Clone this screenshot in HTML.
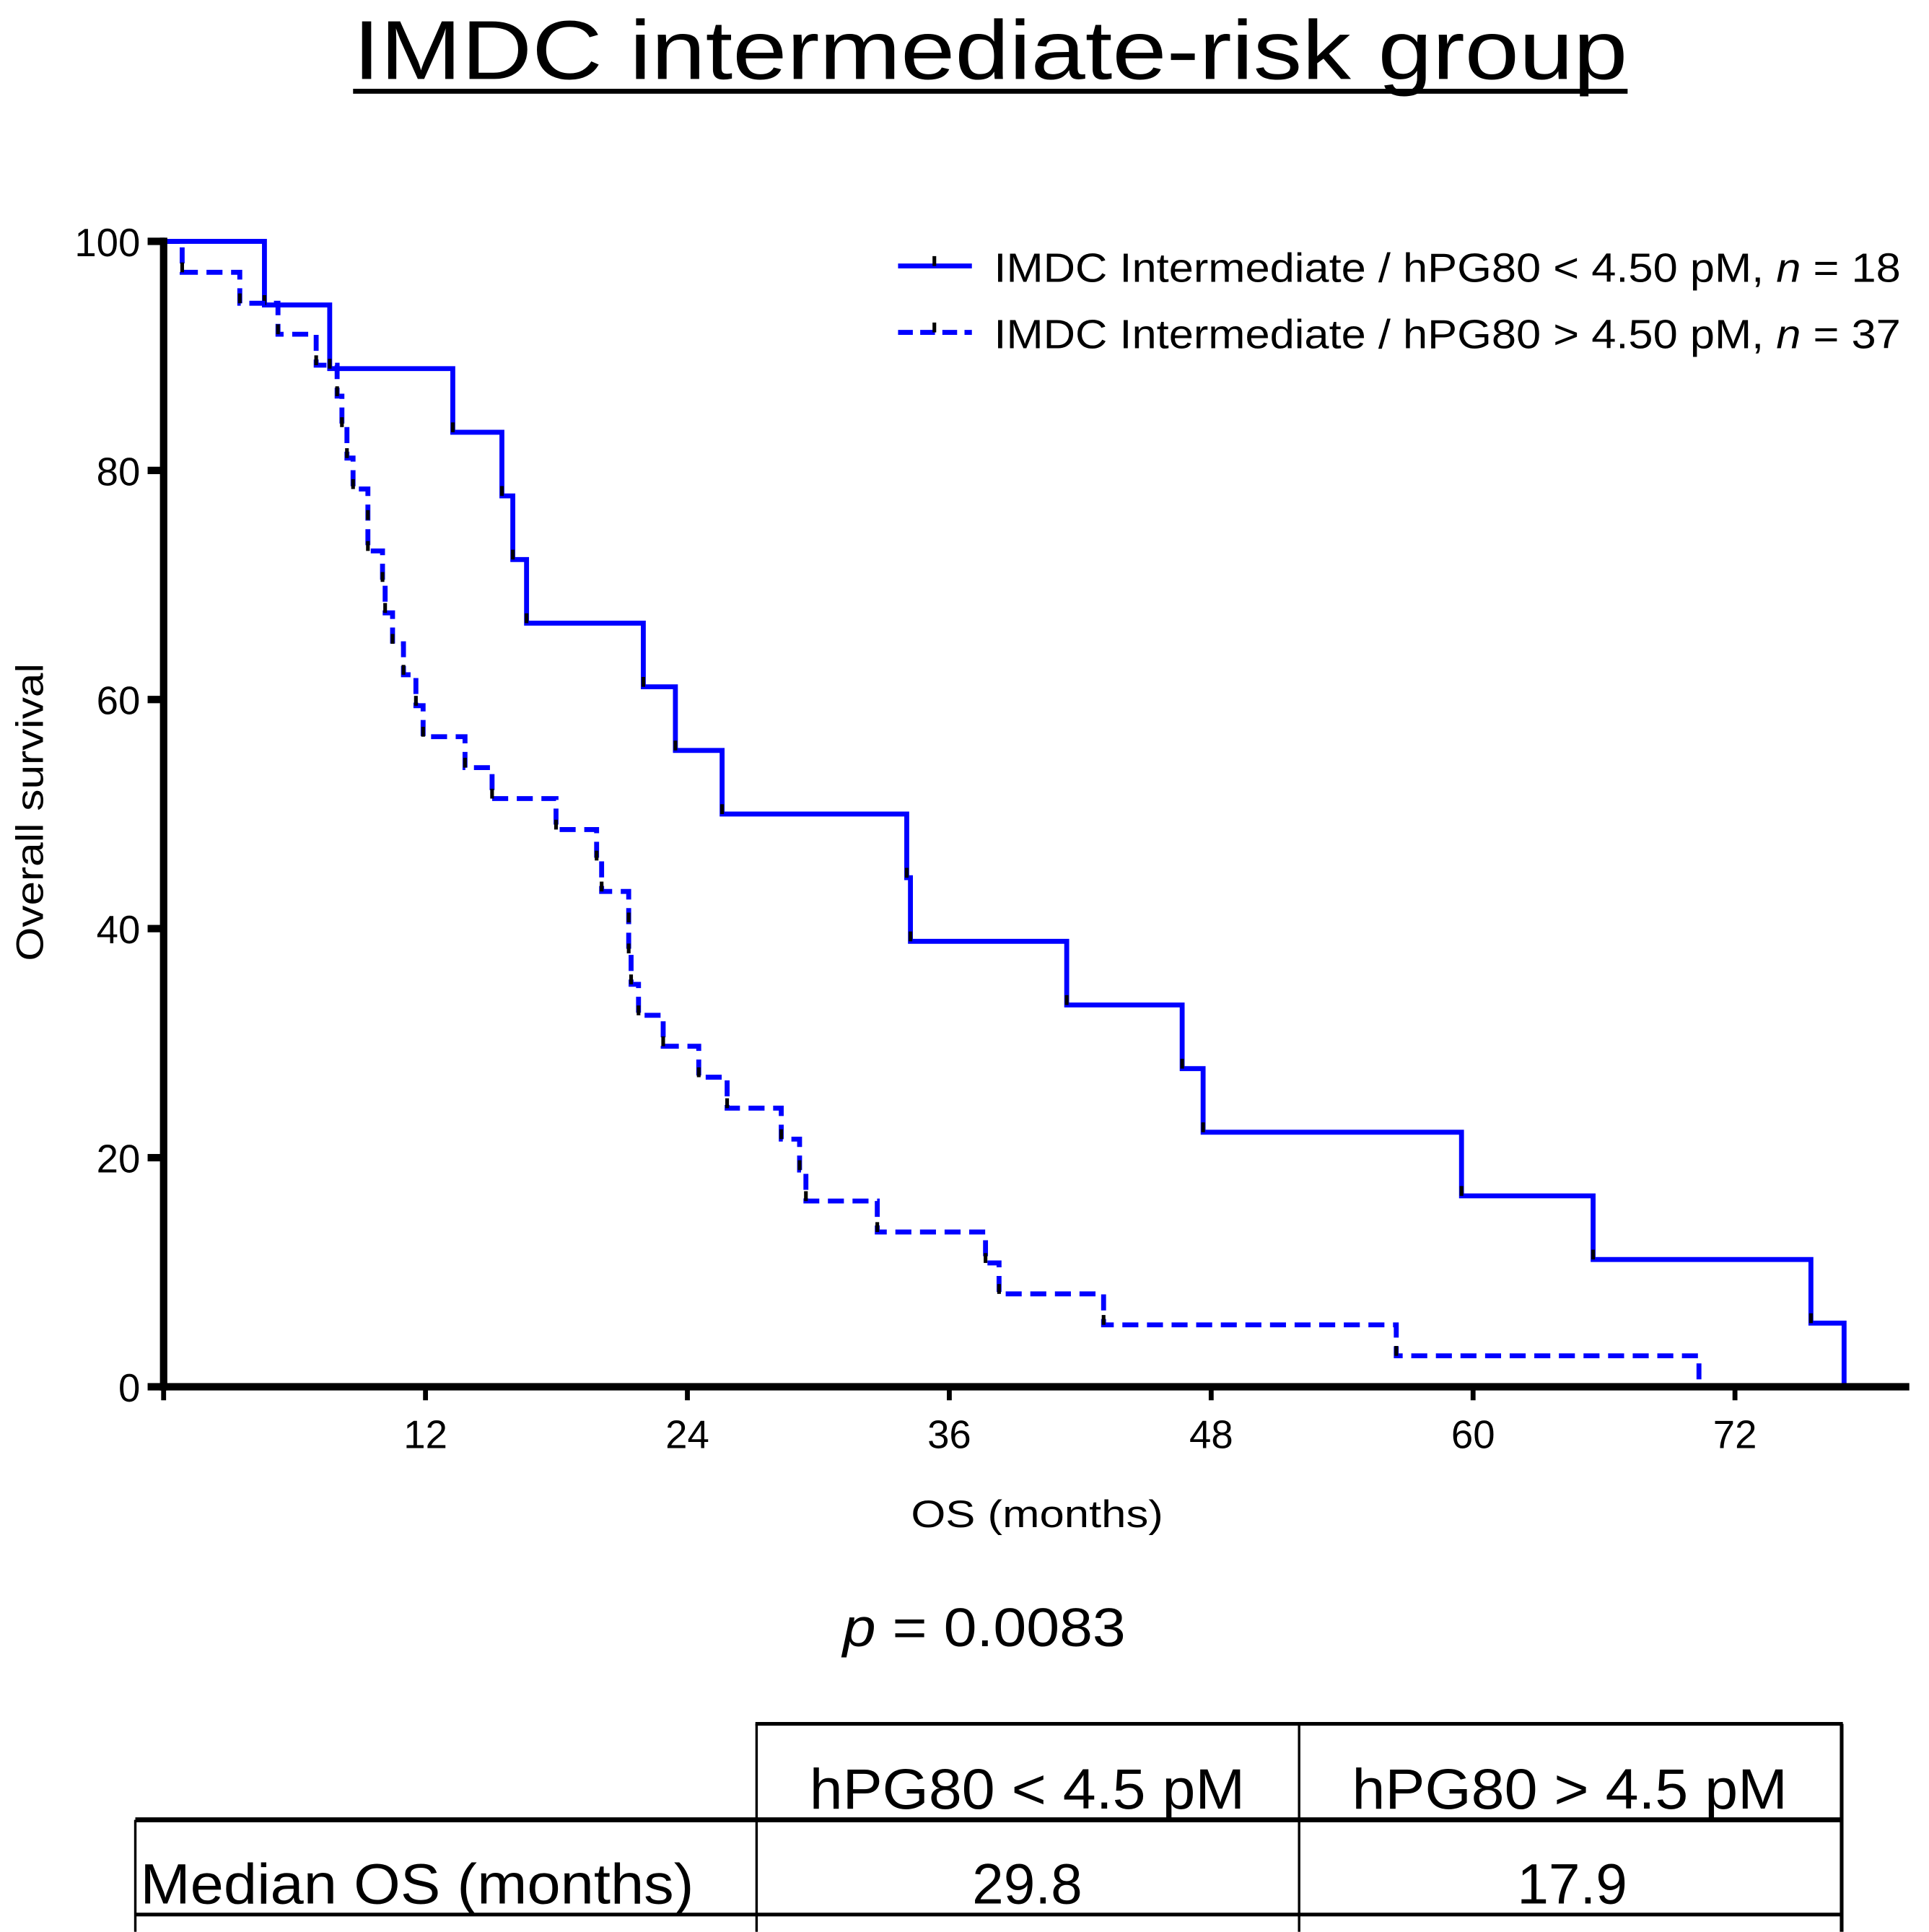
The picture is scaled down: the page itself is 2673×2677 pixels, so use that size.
<!DOCTYPE html>
<html><head><meta charset="utf-8"><style>html,body{margin:0;padding:0;background:#fff}svg{display:block}text{font-family:"Liberation Sans",Arial,sans-serif;fill:#000}</style></head>
<body>
<svg id="chart" width="2673" height="2677" viewBox="0 0 1568 1570" xmlns="http://www.w3.org/2000/svg">
<text x="805" y="64" font-size="68" text-anchor="middle" textLength="1036" lengthAdjust="spacingAndGlyphs">IMDC intermediate-risk group</text>
<rect x="287" y="72" width="1036" height="4" fill="#000"/>
<g id="plot"></g>
<text transform="translate(35,660) rotate(-90)" font-size="31" text-anchor="middle" textLength="242" lengthAdjust="spacingAndGlyphs">Overall survival</text>
<text x="843" y="1241" font-size="31" text-anchor="middle" textLength="205" lengthAdjust="spacingAndGlyphs">OS (months)</text>
<g>
<line x1="730" y1="216" x2="790" y2="216" stroke="#0000ff" stroke-width="4"/>
<rect x="758" y="208" width="3" height="8" fill="#000"/>
<text x="808" y="229" font-size="33" textLength="737" lengthAdjust="spacingAndGlyphs">IMDC Intermediate / hPG80 &lt; 4.50 pM, <tspan font-style="italic">n</tspan> = 18</text>
<line x1="730" y1="270" x2="790" y2="270" stroke="#0000ff" stroke-width="4" stroke-dasharray="12,6"/>
<rect x="758" y="262" width="3" height="8" fill="#000"/>
<text x="808" y="283" font-size="33" textLength="737" lengthAdjust="spacingAndGlyphs">IMDC Intermediate / hPG80 &gt; 4.50 pM, <tspan font-style="italic">n</tspan> = 37</text>
</g>
<text x="800" y="1338" font-size="44" text-anchor="middle" textLength="230" lengthAdjust="spacingAndGlyphs"><tspan font-style="italic">p</tspan> = 0.0083</text>
<g stroke="#000">
<line x1="614" y1="1401" x2="1498" y2="1401" stroke-width="3"/>
<line x1="110" y1="1479" x2="1498" y2="1479" stroke-width="4"/>
<line x1="110" y1="1556" x2="1498" y2="1556" stroke-width="3"/>
<line x1="110" y1="1479" x2="110" y2="1570" stroke-width="2"/>
<line x1="615" y1="1401" x2="615" y2="1570" stroke-width="2"/>
<line x1="1056" y1="1401" x2="1056" y2="1570" stroke-width="2"/>
<line x1="1497" y1="1401" x2="1497" y2="1570" stroke-width="3"/>
</g>
<text x="835" y="1470" font-size="46" text-anchor="middle" textLength="354" lengthAdjust="spacingAndGlyphs">hPG80 &lt; 4.5 pM</text>
<text x="1276" y="1470" font-size="46" text-anchor="middle" textLength="354" lengthAdjust="spacingAndGlyphs">hPG80 &gt; 4.5 pM</text>
<text x="114" y="1547" font-size="46" textLength="450" lengthAdjust="spacingAndGlyphs">Median OS (months)</text>
<text x="835" y="1547" font-size="46" text-anchor="middle">29.8</text>
<text x="1278" y="1547" font-size="46" text-anchor="middle">17.9</text>
</svg>
<script>
const xTicks = [12, 24, 36, 48, 60, 72];
const yTicks = [0, 20, 40, 60, 80, 100];
const lowTimes = [4.62, 7.61, 13.25, 15.5, 16.0, 16.63, 21.98, 23.45, 25.59, 34.05, 34.22, 41.38, 46.67, 47.63, 59.47, 65.5, 75.48, 77.0];
const lowN = 18;
const highTimes = [0.85, 3.49, 5.24, 6.99, 7.95, 8.17, 8.40, 8.68, 9.36, 9.36, 10.03, 10.15, 10.49, 10.99, 11.56, 11.89, 13.81, 15.05, 17.98, 19.84, 20.07, 21.31, 21.31, 21.42, 21.76, 22.89, 24.52, 25.82, 28.30, 29.14, 29.43, 32.70, 37.66, 38.28, 43.07, 56.48, 70.35];
const highN = 37;

const NS = 'http://www.w3.org/2000/svg';
const X0 = 133, PX = 17.74, Y0 = 1127, PY = 9.31;
const sx = m => X0 + m * PX;
const sy = v => Y0 - v * PY;
const g = document.getElementById('plot');
function mk(tag, attrs) { const e = document.createElementNS(NS, tag); for (const k in attrs) e.setAttribute(k, attrs[k]); g.appendChild(e); return e; }

function curve(times, n, dashed, name) {
  let d = 'M' + sx(0) + ',' + sy(100);
  let s = 100, pts = [];
  times.forEach((t, i) => {
    d += ' H' + sx(t);
    s = 100 * (1 - (i + 1) / n);
    d += ' V' + sy(s);
    pts.push([t, s]);
  });
  const p = mk('path', {d: d, fill: 'none', stroke: '#0000ff', 'stroke-width': 4, 'stroke-linejoin': 'miter'});
  if (dashed) p.setAttribute('stroke-dasharray', '13,7');
  
  
  pts.forEach(([t, v]) => {
    if (v <= 0) return;
    const r = mk('rect', {x: sx(t) - 1.5, y: sy(v) - 8, width: 3, height: 8, fill: '#000'});
    
    
  });
}
curve(lowTimes, lowN, false, 'curve-low-hpg80');
curve(highTimes, highN, true, 'curve-high-hpg80');

const ya = mk('rect', {x: 130, y: sy(100) - 3, width: 6, height: sy(0) - sy(100) + 6, fill: '#000'});


const xa = mk('rect', {x: 130, y: Y0 - 3, width: 1552 - 130, height: 6, fill: '#000'});


yTicks.forEach(v => {
  const t = mk('rect', {x: 120, y: sy(v) - 3, width: 14, height: 6, fill: '#000'});
  
  
  const l = mk('text', {x: 114, y: sy(v) + 12, 'font-size': 32, 'text-anchor': 'end'});
  l.textContent = v;
  
  
});
[0].concat(xTicks).forEach(m => {
  const t = mk('rect', {x: sx(m) - 2, y: Y0, width: 4, height: 11, fill: '#000'});
  
  
});
xTicks.forEach(m => {
  const l = mk('text', {x: sx(m), y: 1177, 'font-size': 32, 'text-anchor': 'middle'});
  l.textContent = m;
  
  
});
</script>
</body></html>
